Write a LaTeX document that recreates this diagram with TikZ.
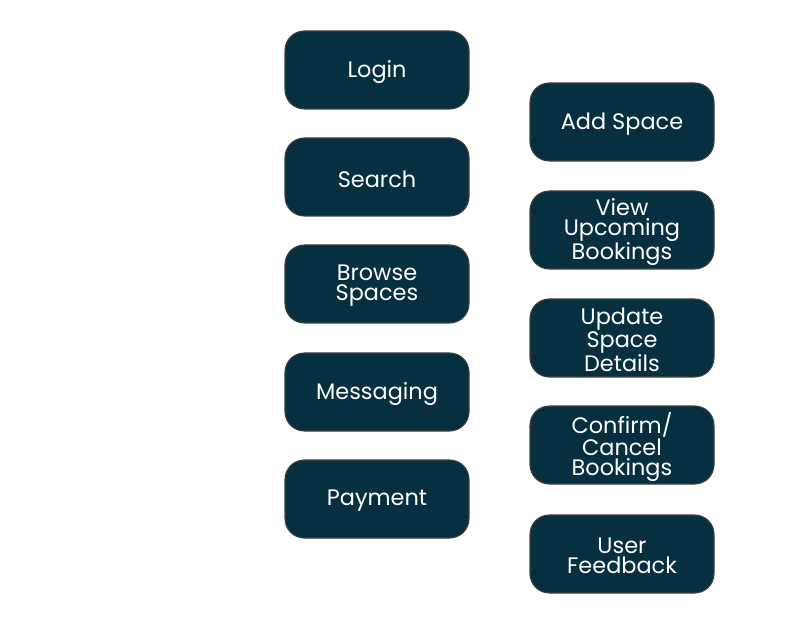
\documentclass[tikz,border=0pt]{standalone}
\usepackage{fontspec}
\setmainfont{Poppins}
\begin{document}
\begin{tikzpicture}[x=0.75pt,y=-0.75pt,
  box/.style={draw=black!75,line width=0.8pt,fill=boxc,rounded corners=14.5,
    minimum width=184*0.75pt,minimum height=78*0.75pt,inner sep=0pt},
  txt/.style={inner sep=0pt,text=white,align=center,font=\fontsize{16.8}{15}\selectfont}]
\definecolor{boxc}{HTML}{06303F}
\useasboundingbox (0,0) rectangle (785,623);
\node[box] (login) at (377,70) {};
\node[box] (search) at (377,177) {};
\node[box] (browse) at (377,284) {};
\node[box] (msg) at (377,392) {};
\node[box] (pay) at (377,499) {};
\node[box] (add) at (622,122) {};
\node[box] (view) at (622,230) {};
\node[box] (upd) at (622,338) {};
\node[box] (conf) at (622,445) {};
\node[box] (fb) at (622,554) {};
\node[txt] (tlogin) at ([yshift=-1.5pt]login.center) {Login};
\node[txt] (tsearch) at ([yshift=-1.5pt]search.center) {Search};
\node[txt] (tbrowse) at ([yshift=-1.5pt]browse.center) {Browse\\Spaces};
\node[txt] (tmsg) at ([yshift=-1.5pt]msg.center) {Messaging};
\node[txt] (tpay) at ([yshift=-1.5pt]pay.center) {Payment};
\node[txt] (tadd) at ([yshift=-1.5pt]add.center) {Add Space};
\node[txt] (tview) at ([yshift=-1.5pt]view.center) {View\\Upcoming\\Bookings};
\node[txt] (tupd) at ([yshift=-1.5pt]upd.center) {Update\\Space\\Details};
\node[txt] (tconf) at ([yshift=-1.5pt]conf.center) {Confirm/\\Cancel\\Bookings};
\node[txt] (tfb) at ([yshift=-1.5pt]fb.center) {User\\Feedback};
\end{tikzpicture}
\end{document}
